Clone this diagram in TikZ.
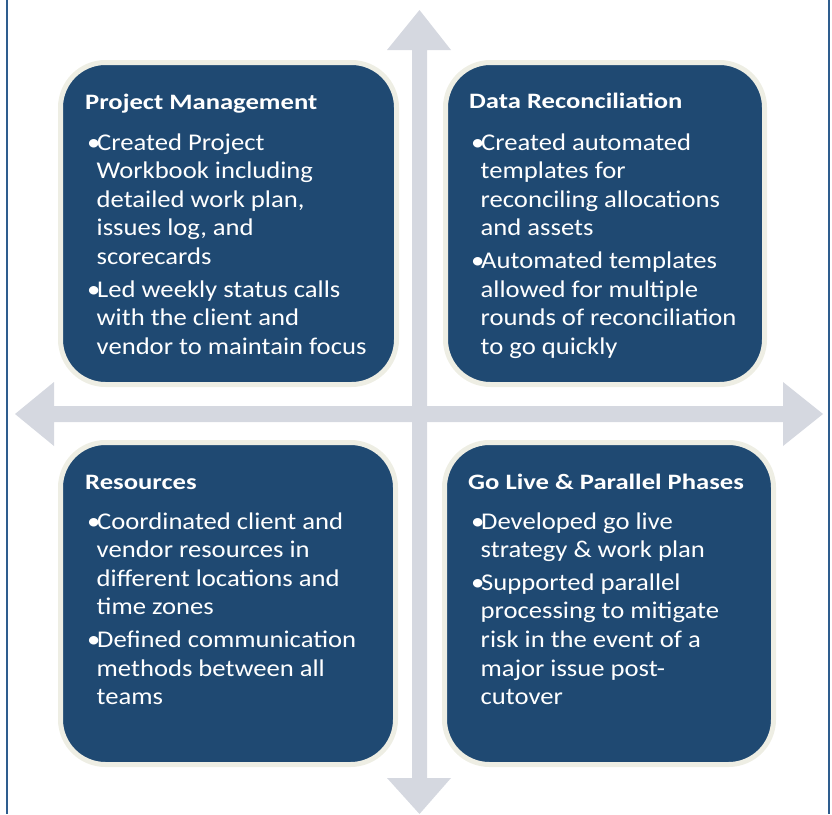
\documentclass[tikz,border=0pt]{standalone}
\usepackage{fontspec}
\setmainfont{Carlito}
\newfontfamily\bodyfont[FakeStretch=1.11]{Carlito}
\newfontfamily\titlefont[FakeStretch=1.21]{Carlito}
\definecolor{boxblue}{HTML}{1F4972}
\definecolor{boxrim}{HTML}{EEEEE4}
\definecolor{arrowgray}{HTML}{D5D8E0}
\definecolor{frameblue}{HTML}{2E5D8E}
\newcommand\bul[1]{\hbox{\makebox[10pt][l]{•}#1}}
\newcommand\cnt[1]{\hbox{\hspace*{9.5pt}#1}}
\newcommand\bodytext[1]{\vtop{\baselineskip=28.6pt\lineskiplimit=-30pt #1}}
\newcommand\gapb{\vskip4pt}
\tikzset{
  quad/.style={draw=boxrim, fill=boxblue, line width=5pt, rounded corners=45pt},
  ttl/.style={anchor=base west, inner sep=0pt, text=white, font=\titlefont\fontsize{22}{26}\selectfont\bfseries},
  bdy/.style={anchor=base west, inner sep=0pt, text=white, font=\bodyfont\fontsize{24}{28.6}\selectfont},
  cross/.style={fill=arrowgray, draw=none}
}
\begin{document}
\begin{tikzpicture}[x=1pt, y=-1pt]
\useasboundingbox (0,0) rectangle (832,814);
% frame lines
\draw[frameblue, line width=2pt] (7,0) -- (7,814);
\draw[frameblue, line width=2pt] (829,0) -- (829,814);
% cross arrows
\fill[cross] (412,50) -- (387,50) -- (419.5,10) -- (451,50) -- (427,50) -- (427,778) -- (451,778) -- (419.5,814) -- (387,778) -- (412,778) -- cycle;
\fill[cross] (54,406) -- (54,382) -- (15,414) -- (54,446) -- (54,422) -- (783,422) -- (783,446) -- (823,414) -- (783,382) -- (783,406) -- cycle;
% boxes
\path[quad] (60.5,62.5) rectangle (396.5,384.5);
\path[quad] (445.5,62.5) rectangle (764.5,384.5);
\path[quad] (60.5,442.5) rectangle (395.5,764.5);
\path[quad] (444.5,442.5) rectangle (773.5,764.5);
% texts
\node[ttl] (t1) at (85,109) {Project Management};
\node[bdy] (b1) at (87,150) {\bodytext{%
  \bul{Created Project}\cnt{Workbook including}\cnt{detailed work plan,}\cnt{issues log, and}\cnt{scorecards}\gapb
  \bul{Led weekly status calls}\cnt{with the client and}\cnt{vendor to maintain focus}}};
\node[ttl] (t2) at (469,108) {Data Reconciliation};
\node[bdy] (b2) at (471,150) {\bodytext{%
  \bul{Created automated}\cnt{templates for}\cnt{reconciling allocations}\cnt{and assets}\gapb
  \bul{Automated templates}\cnt{allowed for multiple}\cnt{rounds of reconciliation}\cnt{to go quickly}}};
\node[ttl] (t3) at (85,489) {Resources};
\node[bdy] (b3) at (87,529) {\bodytext{%
  \bul{Coordinated client and}\cnt{vendor resources in}\cnt{different locations and}\cnt{time zones}\gapb
  \bul{Defined communication}\cnt{methods between all}\cnt{teams}}};
\node[ttl] (t4) at (468,489) {Go Live \& Parallel Phases};
\node[bdy] (b4) at (471,529) {\bodytext{%
  \bul{Developed go live}\cnt{strategy \& work plan}\gapb
  \bul{Supported parallel}\cnt{processing to mitigate}\cnt{risk in the event of a}\cnt{major issue post-}\cnt{cutover}}};
\end{tikzpicture}
\end{document}
